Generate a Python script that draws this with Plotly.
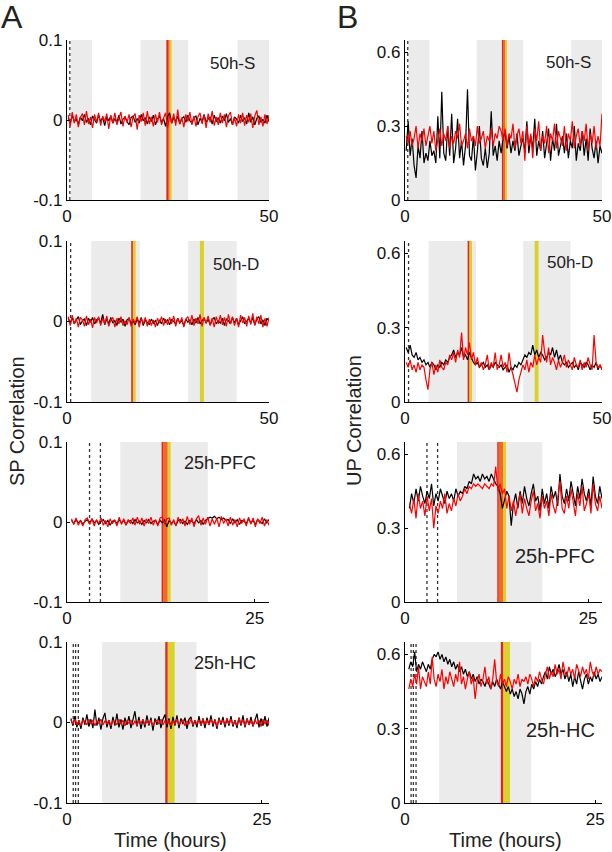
import numpy as np
import plotly.graph_objects as go

# ---------------- data ----------------
PANELS = ["50h-S", "50h-D", "25h-PFC", "25h-HC"]
ROW_TSTART = [0.3, 0.3, 0.6, 0.5]
ROW_TEND = [50.0, 50.0, 26.9, 25.9]
ROW_XMAX = [50.0, 50.0, 26.9, 25.9]
ROW_XTICKS = [[0, 50], [0, 50], [0, 25], [0, 25]]

SP_TICKS = [-0.1, 0, 0.1]
SP_TICKTEXT = ["-0.1", "0", "0.1"]
UP_TICKS = [0, 0.3, 0.6]
UP_TICKTEXT = ["0", "0.3", "0.6"]

# light periods (grey), recording markers (dotted), manipulation markers
grey_bands = [
    [[0.9, 6.2], [18.2, 30.0], [42.2, 50.0]],
    [[6.0, 18.0], [30.0, 42.0]],
    [[7.1, 18.75]],
    [[4.5, 16.6]],
]
dotted_lines = [[0.7], [0.9], [3.0, 4.45], [0.8, 1.1, 1.45]]
red_marks = [[[24.6, 25.0]], [[15.9, 16.3]], [[12.6, 12.8]], [[12.6, 12.9]]]
orange_marks = [[[25.0, 25.4]], [], [[12.8, 13.4]], []]
yellow_marks = [[[25.4, 25.9]], [[16.3, 17.0], [32.9, 33.9]], [[13.4, 13.8]], [[12.9, 13.8]]]

# ---- SP correlation (column A) ----
sp_black_50S = [0.003,-0.004,0.006,-0.002,0.001,-0.005,0.004,-0.001,0.007,-0.003,0.002,-0.006,0.005,0.000,-0.004,0.006,-0.002,0.003,-0.007,0.004,
-0.001,0.005,-0.004,0.002,-0.003,0.006,-0.005,0.001,0.004,-0.002,-0.006,0.003,0.005,-0.003,0.002,-0.004,0.007,-0.001,0.003,-0.005,
0.004,-0.002,0.006,-0.006,0.001,0.005,-0.003,0.002,-0.008,0.004,0.009,-0.004,0.003,-0.002,0.005,-0.005,0.002,0.004,-0.003,0.006,
-0.001,-0.004,0.003,0.005,-0.006,0.002,-0.002,0.007,-0.003,0.001,0.004,-0.005,0.006,-0.002,0.003,-0.004,0.005,-0.001,0.008,-0.003,
0.002,-0.006,0.004,0.001,-0.004,0.006,-0.002,0.003,-0.005,0.009,-0.003,0.004,-0.006,0.002,0.005,-0.003,0.001,-0.004,0.006,-0.002]
sp_red_50S = [0.006,-0.008,0.010,-0.004,0.007,-0.009,0.003,0.008,-0.006,0.011,-0.005,0.004,-0.010,0.007,-0.003,0.009,-0.007,0.005,-0.002,0.008,
-0.011,0.006,-0.004,0.009,-0.006,0.003,0.010,-0.008,0.005,-0.003,0.007,-0.009,0.004,0.008,-0.012,0.006,-0.002,0.009,-0.007,0.011,
-0.005,0.004,-0.008,0.007,-0.003,0.010,-0.006,0.002,0.009,-0.010,0.006,-0.004,0.008,-0.007,0.013,-0.005,0.003,-0.009,0.007,-0.002,
0.010,-0.006,0.005,-0.008,0.004,0.009,-0.005,0.006,-0.010,0.008,-0.003,0.011,-0.007,0.004,-0.006,0.009,-0.004,0.007,-0.009,0.005,
0.010,-0.006,0.003,-0.008,0.007,-0.004,0.009,-0.007,0.006,-0.003,0.008,-0.010,0.005,0.012,-0.006,0.004,-0.008,0.007,-0.005,0.006]
sp_black_50D = [0.004,-0.002,0.005,-0.003,0.002,0.006,-0.004,0.001,0.003,-0.005,0.004,-0.001,0.005,-0.003,0.002,0.004,-0.002,0.009,-0.004,0.003,
-0.003,0.005,-0.002,0.001,-0.005,0.004,-0.001,0.003,-0.006,0.002,0.004,-0.003,0.001,-0.004,0.003,-0.002,0.005,-0.005,0.002,-0.001,
-0.004,0.003,-0.002,0.001,-0.005,0.002,-0.003,0.004,-0.001,0.002,-0.004,0.003,0.000,-0.003,0.004,-0.002,0.001,-0.005,0.003,-0.001,
0.002,-0.004,0.003,-0.002,0.005,-0.003,0.001,0.004,-0.002,0.003,-0.004,0.002,0.005,-0.003,0.001,-0.002,0.004,-0.005,0.003,0.001,
-0.003,0.005,-0.002,0.004,-0.004,0.002,0.006,-0.003,0.001,0.004,-0.002,0.005,-0.004,0.003,0.006,-0.003,0.002,-0.005,0.004,0.001]
sp_red_50D = [0.006,-0.005,0.008,-0.003,0.004,-0.007,0.005,0.002,-0.006,0.007,-0.004,0.003,-0.008,0.005,-0.002,0.006,-0.005,0.004,-0.003,0.007,
-0.006,0.002,0.005,-0.007,0.004,-0.003,0.006,-0.005,0.001,-0.004,0.005,-0.006,0.003,-0.002,0.006,-0.007,0.004,-0.003,0.005,-0.006,
0.003,-0.005,0.002,-0.007,0.004,-0.002,0.006,-0.005,0.003,-0.004,0.005,-0.003,0.007,-0.006,0.004,-0.002,0.005,-0.007,0.003,0.006,
-0.004,0.008,-0.005,0.004,-0.003,0.009,-0.006,0.005,-0.002,0.007,-0.005,0.004,-0.007,0.006,-0.003,0.008,-0.004,0.005,-0.006,0.009,
-0.003,0.006,-0.005,0.004,-0.007,0.008,-0.002,0.005,-0.006,0.007,-0.004,0.010,-0.005,0.006,-0.003,0.008,-0.007,0.004,-0.006,0.005]
sp_black_25PFC = [0.002,-0.002,0.003,-0.001,0.002,-0.003,0.001,0.003,-0.002,0.004,-0.001,0.002,-0.003,0.001,0.003,-0.002,0.002,-0.004,0.001,0.002,
-0.002,0.003,-0.001,0.002,-0.003,0.001,0.002,-0.002,0.003,-0.001,0.001,-0.003,0.002,-0.001,0.003,-0.002,0.001,0.002,-0.003,0.002,
-0.001,0.003,-0.006,0.002,-0.002,0.001,-0.004,0.002,0.003,-0.002,0.001,-0.003,0.002,0.001,-0.002,0.003,-0.001,0.002,-0.003,0.002,
0.004,0.006,0.005,0.007,0.004,0.006,0.003,0.005,0.002,0.003,-0.002,0.004,-0.001,0.003,-0.003,0.002,0.001,-0.002,0.004,-0.001,
0.002,-0.003,0.003,0.001,-0.002,0.004,-0.001,0.003]
sp_red_25PFC = [0.004,-0.003,0.005,-0.004,0.002,-0.005,0.003,0.005,-0.003,0.004,-0.005,0.003,-0.002,0.005,-0.004,0.002,-0.006,0.004,-0.002,0.003,
-0.005,0.006,-0.003,0.004,-0.004,0.003,-0.002,0.005,-0.004,0.006,-0.003,0.005,-0.005,0.004,-0.002,0.006,-0.004,0.003,-0.005,0.005,
0.006,-0.003,0.004,0.005,-0.004,0.003,-0.005,0.006,-0.002,0.004,-0.005,0.007,-0.003,0.005,-0.006,0.004,0.008,-0.004,0.005,-0.003,
0.006,-0.005,0.004,-0.003,0.005,-0.006,0.007,-0.002,0.004,-0.005,0.006,-0.004,0.003,-0.006,0.005,-0.002,0.004,-0.005,0.006,-0.003,
0.005,-0.006,0.004,-0.002,0.006,-0.005,0.003,-0.004]
sp_black_25HC = [0.005,-0.004,0.008,-0.006,0.003,-0.008,0.006,-0.003,0.010,-0.005,0.004,-0.007,0.016,-0.004,0.006,-0.009,0.005,0.012,-0.006,0.003,
-0.008,0.007,-0.004,0.011,-0.006,0.004,-0.009,0.006,-0.003,0.008,-0.007,0.005,0.014,-0.005,0.007,-0.008,0.004,-0.006,0.009,-0.004,
0.006,-0.010,0.005,-0.003,0.008,-0.007,0.004,0.010,-0.006,0.005,-0.008,0.007,-0.004,0.009,-0.007,0.005,-0.002,0.006,-0.008,0.004,
0.007,-0.005,0.003,-0.006,0.008,-0.004,0.005,-0.007,0.006,-0.003,0.009,-0.005,0.004,-0.008,0.006,-0.003,0.007,-0.006,0.005,-0.004,
0.008,-0.005,0.003,-0.007,0.006,-0.004,0.009,-0.006,0.005,-0.003,0.007,-0.005,0.004,0.011,-0.006,0.005,-0.004,0.008,-0.005,0.006]
sp_red_25HC = [0.003,-0.002,0.004,-0.003,0.002,-0.004,0.003,0.001,-0.003,0.004,-0.002,0.003,-0.004,0.002,-0.001,0.004,-0.003,0.002,-0.002,0.003,
-0.004,0.002,0.001,-0.003,0.004,-0.002,0.003,-0.004,0.002,-0.001,0.003,-0.003,0.002,-0.004,0.003,-0.001,0.004,-0.003,0.002,-0.002,
0.003,-0.004,0.001,0.003,-0.002,0.004,-0.003,0.002,-0.001,0.003,-0.004,0.002,-0.002,0.004,-0.003,0.001,0.003,-0.004,0.002,-0.002,
0.004,-0.003,0.002,-0.001,0.003,-0.004,0.005,-0.002,0.003,-0.003,0.004,-0.002,0.003,-0.005,0.004,-0.001,0.003,-0.003,0.005,-0.002,
0.004,-0.003,0.002,-0.004,0.006,-0.002,0.003,-0.004,0.005,-0.003,0.002,-0.004,0.004,-0.002,0.003,-0.005,0.004,-0.002,0.003,-0.004]

# ---- UP correlation (column B) ----
up_black_50S = [0.20,0.32,0.18,0.25,0.14,0.09,0.22,0.17,0.28,0.15,0.19,0.16,0.24,0.18,0.20,0.15,0.34,0.17,0.44,0.19,
0.16,0.30,0.18,0.35,0.15,0.21,0.33,0.17,0.24,0.14,0.22,0.45,0.18,0.16,0.26,0.12,0.20,0.30,0.17,0.14,
0.21,0.13,0.19,0.36,0.18,0.22,0.16,0.24,0.19,0.25,0.28,0.21,0.26,0.19,0.24,0.20,0.27,0.18,0.22,0.25,
0.20,0.32,0.19,0.26,0.21,0.33,0.18,0.24,0.20,0.28,0.17,0.23,0.29,0.16,0.25,0.20,0.31,0.18,0.22,0.26,
0.19,0.27,0.17,0.24,0.21,0.30,0.16,0.23,0.20,0.28,0.18,0.25,0.16,0.29,0.21,0.17,0.24,0.15,0.22,0.19]
up_red_50S = [0.26,0.23,0.28,0.22,0.25,0.30,0.21,0.27,0.24,0.29,0.22,0.26,0.30,0.23,0.28,0.20,0.25,0.29,0.22,0.27,
0.24,0.30,0.21,0.26,0.23,0.28,0.25,0.31,0.22,0.24,0.27,0.21,0.29,0.24,0.26,0.22,0.30,0.23,0.25,0.28,
0.21,0.26,0.24,0.29,0.22,0.27,0.25,0.30,0.28,0.24,0.29,0.22,0.27,0.25,0.31,0.21,0.26,0.29,0.23,0.28,
0.16,0.30,0.22,0.27,0.17,0.29,0.24,0.32,0.20,0.26,0.23,0.30,0.19,0.27,0.24,0.31,0.21,0.28,0.25,0.22,
0.30,0.20,0.27,0.24,0.32,0.21,0.26,0.29,0.22,0.28,0.24,0.31,0.20,0.27,0.23,0.30,0.21,0.26,0.22,0.35]
up_black_50D = [0.22,0.20,0.23,0.19,0.18,0.20,0.17,0.18,0.16,0.17,0.15,0.16,0.14,0.16,0.15,0.13,0.15,0.14,0.16,0.15,
0.17,0.16,0.18,0.19,0.21,0.18,0.20,0.19,0.22,0.18,0.19,0.17,0.20,0.18,0.16,0.15,0.16,0.14,0.15,0.16,
0.14,0.15,0.13,0.15,0.14,0.16,0.15,0.14,0.15,0.13,0.14,0.15,0.12,0.14,0.13,0.15,0.14,0.16,0.15,0.17,
0.19,0.18,0.20,0.19,0.23,0.19,0.21,0.18,0.20,0.19,0.17,0.18,0.20,0.19,0.22,0.18,0.21,0.17,0.19,0.16,
0.15,0.16,0.14,0.15,0.16,0.14,0.15,0.13,0.16,0.15,0.14,0.16,0.15,0.13,0.15,0.14,0.16,0.13,0.15,0.13]
up_red_50D = [0.16,0.14,0.17,0.13,0.15,0.12,0.16,0.13,0.15,0.14,0.09,0.05,0.13,0.16,0.11,0.15,0.12,0.17,0.14,0.13,
0.16,0.15,0.19,0.17,0.20,0.16,0.21,0.18,0.28,0.17,0.22,0.19,0.24,0.17,0.20,0.15,0.18,0.14,0.16,0.13,
0.15,0.19,0.13,0.16,0.14,0.20,0.13,0.15,0.19,0.14,0.16,0.12,0.20,0.14,0.11,0.07,0.04,0.09,0.12,0.15,
0.13,0.17,0.12,0.16,0.14,0.19,0.15,0.18,0.16,0.27,0.20,0.16,0.22,0.15,0.18,0.16,0.13,0.17,0.14,0.16,
0.19,0.14,0.17,0.15,0.13,0.18,0.15,0.14,0.17,0.13,0.16,0.14,0.18,0.15,0.13,0.27,0.16,0.14,0.15,0.13]
up_black_25PFC = [0.38,0.44,0.40,0.46,0.41,0.47,0.43,0.40,0.45,0.42,0.48,0.39,0.44,0.41,0.46,0.43,0.40,0.45,0.42,0.44,
0.41,0.46,0.43,0.45,0.44,0.47,0.46,0.49,0.48,0.52,0.50,0.51,0.49,0.52,0.50,0.51,0.49,0.52,0.50,0.48,
0.47,0.44,0.38,0.41,0.45,0.43,0.31,0.40,0.44,0.38,0.45,0.40,0.47,0.42,0.39,0.44,0.48,0.41,0.43,0.37,
0.46,0.40,0.44,0.38,0.47,0.42,0.45,0.39,0.52,0.43,0.40,0.46,0.41,0.49,0.43,0.39,0.47,0.42,0.50,0.44,
0.41,0.46,0.39,0.51,0.43,0.40,0.47,0.42]
up_red_25PFC = [0.40,0.36,0.42,0.34,0.44,0.38,0.41,0.35,0.43,0.37,0.42,0.30,0.39,0.36,0.41,0.38,0.44,0.36,0.40,0.37,
0.42,0.39,0.44,0.41,0.43,0.46,0.44,0.47,0.46,0.48,0.47,0.48,0.47,0.46,0.48,0.47,0.46,0.48,0.47,0.55,
0.45,0.48,0.44,0.46,0.38,0.43,0.37,0.41,0.35,0.40,0.44,0.36,0.42,0.38,0.35,0.41,0.45,0.37,0.40,0.34,
0.43,0.38,0.41,0.35,0.44,0.39,0.36,0.42,0.49,0.38,0.36,0.43,0.38,0.46,0.40,0.35,0.44,0.39,0.47,0.37,
0.40,0.44,0.36,0.48,0.40,0.37,0.43,0.38]
up_black_25HC = [0.54,0.57,0.55,0.61,0.53,0.56,0.54,0.57,0.55,0.53,0.56,0.54,0.58,0.60,0.59,0.61,0.58,0.60,0.57,0.59,
0.56,0.58,0.55,0.57,0.54,0.56,0.53,0.55,0.52,0.54,0.51,0.53,0.50,0.52,0.49,0.51,0.48,0.50,0.49,0.47,
0.50,0.48,0.46,0.49,0.47,0.50,0.48,0.46,0.49,0.47,0.45,0.47,0.44,0.46,0.43,0.45,0.42,0.46,0.44,0.40,
0.45,0.47,0.44,0.48,0.46,0.49,0.47,0.50,0.48,0.51,0.53,0.50,0.55,0.52,0.54,0.51,0.53,0.56,0.52,0.54,
0.50,0.53,0.49,0.52,0.47,0.51,0.48,0.53,0.50,0.46,0.50,0.52,0.48,0.51,0.49,0.53,0.50,0.52,0.49,0.51]
up_red_25HC = [0.46,0.50,0.47,0.52,0.48,0.55,0.46,0.51,0.49,0.47,0.53,0.48,0.59,0.50,0.47,0.52,0.49,0.54,0.46,0.51,
0.48,0.53,0.50,0.47,0.52,0.49,0.57,0.48,0.51,0.46,0.50,0.53,0.48,0.51,0.42,0.49,0.52,0.47,0.50,0.55,
0.48,0.51,0.46,0.50,0.58,0.49,0.47,0.52,0.48,0.50,0.47,0.51,0.49,0.46,0.50,0.48,0.52,0.47,0.50,0.49,
0.51,0.48,0.52,0.50,0.47,0.51,0.49,0.53,0.50,0.48,0.52,0.55,0.50,0.53,0.51,0.56,0.52,0.54,0.50,0.57,
0.53,0.51,0.55,0.52,0.54,0.50,0.56,0.53,0.51,0.55,0.52,0.54,0.50,0.57,0.53,0.51,0.55,0.52,0.54,0.53]

SP_SERIES = [(sp_black_50S, sp_red_50S), (sp_black_50D, sp_red_50D),
             (sp_black_25PFC, sp_red_25PFC), (sp_black_25HC, sp_red_25HC)]
UP_SERIES = [(up_black_50S, up_red_50S), (up_black_50D, up_red_50D),
             (up_black_25PFC, up_red_25PFC), (up_black_25HC, up_red_25HC)]

# ---------------- layout ----------------
W, H = 612, 852
FONT = "Liberation Sans, Arial, Helvetica, sans-serif"
COL_PX = [(67, 269), (405, 602)]
ROW_PX = [(40, 200), (241, 402), (442, 602), (642, 803)]
TICK_FS = 17

fig = go.Figure()
layout = dict(
    width=W, height=H, margin=dict(l=0, r=0, t=0, b=0, pad=0, autoexpand=False),
    paper_bgcolor="white", plot_bgcolor="white", showlegend=False,
    font=dict(family=FONT, size=TICK_FS, color="black"),
)
shapes = []
annotations = []

for r in range(4):
    for c in range(2):
        k = r * 2 + c + 1
        xa = "x" if k == 1 else f"x{k}"
        ya = "y" if k == 1 else f"y{k}"
        x0p, x1p = COL_PX[c]
        y0p, y1p = ROW_PX[r]
        layout["xaxis" if k == 1 else f"xaxis{k}"] = dict(
            domain=[x0p / W, x1p / W], anchor=ya, range=[0, ROW_XMAX[r]],
            tickvals=ROW_XTICKS[r], ticktext=[str(v) for v in ROW_XTICKS[r]],
            showline=True, linecolor="black", linewidth=1.3, ticks="inside",
            ticklen=3, tickcolor="black", showgrid=False, zeroline=False,
            automargin=False, ticklabeloverflow="allow",
            tickfont=dict(size=TICK_FS, family=FONT, color="#111"), ticklabelstandoff=0)
        if c == 0:
            yt, ytt, yr = SP_TICKS, SP_TICKTEXT, [-0.1, 0.1]
        else:
            yt, ytt, yr = UP_TICKS, UP_TICKTEXT, [0, 0.65]
        layout["yaxis" if k == 1 else f"yaxis{k}"] = dict(
            domain=[1 - y1p / H, 1 - y0p / H], anchor=xa, range=yr,
            tickvals=yt, ticktext=ytt, showline=True, linecolor="black",
            linewidth=1.3, ticks="inside", ticklen=3, tickcolor="black",
            showgrid=False, zeroline=False, automargin=False,
            tickfont=dict(size=TICK_FS, family=FONT, color="#111"),
            ticklabelstandoff=0)

        yref = f"{ya} domain"
        for b0, b1 in grey_bands[r]:
            shapes.append(dict(type="rect", xref=xa, yref=yref, x0=b0, x1=b1, y0=0, y1=1,
                               fillcolor="#ebebeb", line=dict(width=0), layer="below"))
        for a0, a1 in yellow_marks[r]:
            shapes.append(dict(type="rect", xref=xa, yref=yref, x0=a0, x1=a1, y0=0, y1=1,
                               fillcolor="#d9d22e", line=dict(width=0), layer="below"))
        for a0, a1 in orange_marks[r]:
            shapes.append(dict(type="rect", xref=xa, yref=yref, x0=a0, x1=a1, y0=0, y1=1,
                               fillcolor="#f06a24", line=dict(width=0), layer="below"))
        for a0, a1 in red_marks[r]:
            shapes.append(dict(type="rect", xref=xa, yref=yref, x0=a0, x1=a1, y0=0, y1=1,
                               fillcolor="#e5231b", line=dict(width=0), layer="below"))
        for dl in dotted_lines[r]:
            shapes.append(dict(type="line", xref=xa, yref=yref, x0=dl, x1=dl, y0=0, y1=1,
                               line=dict(color="#333333", width=1.3, dash="dot"), layer="below"))

        blk, red = (SP_SERIES if c == 0 else UP_SERIES)[r]
        tb = np.linspace(ROW_TSTART[r], ROW_TEND[r], len(blk))
        tr = np.linspace(ROW_TSTART[r], ROW_TEND[r], len(red))
        fig.add_trace(go.Scatter(x=tb, y=blk, mode="lines", xaxis=xa, yaxis=ya,
                                 line=dict(color="black", width=1.2)))
        fig.add_trace(go.Scatter(x=tr, y=red, mode="lines", xaxis=xa, yaxis=ya,
                                 line=dict(color="#ff0000", width=1.2)))

# panel labels
label_pos = [
    [(232, 63, 17), (568, 62, 17)],
    [(236, 264, 17), (570, 262, 17)],
    [(220, 463, 18), (555, 556, 20)],
    [(225, 663, 18), (560, 730, 20)],
]
for r in range(4):
    for c in range(2):
        px, py, fs = label_pos[r][c]
        annotations.append(dict(x=px / W, y=1 - py / H, xref="paper", yref="paper",
                                text=PANELS[r], showarrow=False,
                                font=dict(size=fs, family=FONT, color="#222"),
                                xanchor="center", yanchor="middle"))

# letters and axis titles
for txt, px, py, fs, ang in [("A", 12, 17, 32, 0), ("B", 347, 17, 32, 0),
                             ("SP Correlation", 17, 421, 20, -90),
                             ("UP Correlation", 354, 421, 20, -90),
                             ("Time (hours)", 170, 840, 20, 0),
                             ("Time (hours)", 505, 840, 20, 0)]:
    annotations.append(dict(x=px / W, y=1 - py / H, xref="paper", yref="paper",
                            text=txt, showarrow=False, textangle=ang,
                            font=dict(size=fs, family=FONT, color="#222"),
                            xanchor="center", yanchor="middle"))

layout["shapes"] = shapes
layout["annotations"] = annotations
fig.update_layout(**layout)
fig.write_html("out.html", config={"displayModeBar": False},
               post_script="document.body.style.margin='0px';document.body.style.overflow='hidden';")
